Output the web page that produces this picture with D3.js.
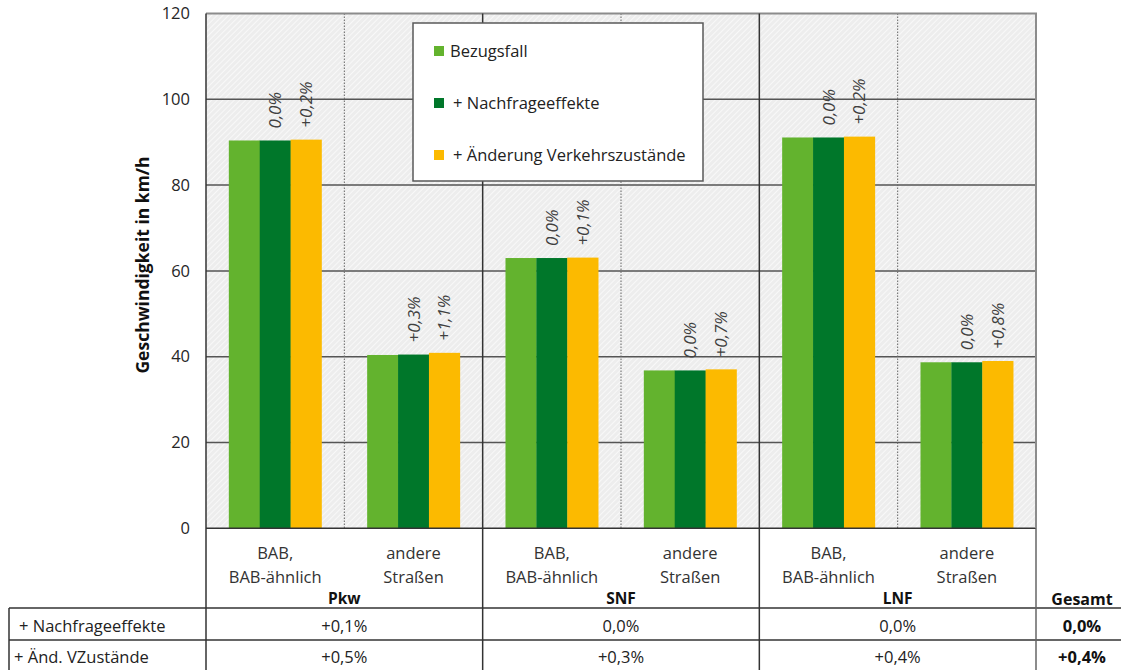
<!DOCTYPE html>
<html>
<head>
<meta charset="utf-8">
<script src="https://cdn.jsdelivr.net/npm/d3@7"></script>
<style>
  body { margin: 0; background: #fff; }
  svg text { font-family: "Open Sans", "DejaVu Sans", sans-serif; fill: #262626; }
</style>
</head>
<body>
<div id="chart"></div>
<script>
// data
var groups = ["Pkw", "SNF", "LNF"];
var roadTypes = [["BAB,", "BAB-ähnlich"], ["andere", "Straßen"]];
var seriesNames = ["Bezugsfall", "+ Nachfrageeffekte", "+ Änderung Verkehrszustände"];
var bezugsfall    = [90.4, 40.4, 63.0, 36.8, 91.1, 38.7];
var nachfrage     = [90.4, 40.5, 63.0, 36.8, 91.1, 38.7];
var aenderung     = [90.6, 40.9, 63.1, 37.05, 91.3, 39.0];
var nachfrageLbl  = ["0,0%", "+0,3%", "0,0%", "0,0%", "0,0%", "0,0%"];
var aenderungLbl  = ["+0,2%", "+1,1%", "+0,1%", "+0,7%", "+0,2%", "+0,8%"];
var yTicks = [0, 20, 40, 60, 80, 100, 120];
var rowLabels = ["+ Nachfrageeffekte", "+ Änd. VZustände"];
var rowNachfrage = ["+0,1%", "0,0%", "0,0%"];
var rowAenderung = ["+0,5%", "+0,3%", "+0,4%"];
var gesamt = ["0,0%", "+0,4%"];

var colors = ["#63b32e", "#00772a", "#fcba00"];

var width = 1121, height = 670;
var plotLeft = 206, plotRight = 1036, plotTop = 13.5, zeroY = 528.3;
var fs = 16.5;

var svg = d3.select("#chart").append("svg")
  .attr("width", width)
  .attr("height", height);

// hatch pattern for the plot background
var defs = svg.append("defs");
var pat = defs.append("pattern")
  .attr("id", "hatch")
  .attr("patternUnits", "userSpaceOnUse")
  .attr("width", 4).attr("height", 4)
  .attr("patternTransform", "rotate(45)");
pat.append("rect").attr("width", 4).attr("height", 4).attr("fill", "#ededed");
pat.append("line").attr("x1", 0).attr("y1", 0).attr("x2", 0).attr("y2", 4)
  .attr("stroke", "#fcfcfc").attr("stroke-width", 1.6);

var cats = d3.range(groups.length * roadTypes.length);

var x = d3.scaleBand().domain(cats).range([plotLeft, plotRight]);
var xs = d3.scaleBand().domain(d3.range(3))
  .range([x.bandwidth() * 0.165, x.bandwidth() * 0.835]);
var y = d3.scaleLinear().domain([0, 120]).range([zeroY, plotTop]);

svg.append("rect")
  .attr("x", plotLeft).attr("y", y(120))
  .attr("width", plotRight - plotLeft).attr("height", y(0) - y(120))
  .attr("fill", "url(#hatch)");

// horizontal gridlines
svg.selectAll(".grid")
  .data(yTicks.filter(function (d) { return d > 0 && d < 120; }))
  .enter().append("line")
  .attr("x1", plotLeft).attr("x2", plotRight)
  .attr("y1", function (d) { return y(d); })
  .attr("y2", function (d) { return y(d); })
  .attr("stroke", "#555").attr("stroke-width", 1.5);

// dotted separators between road types
svg.selectAll(".dots")
  .data(groups)
  .enter().append("line")
  .attr("x1", function (d, i) { return x(i * 2 + 1); })
  .attr("x2", function (d, i) { return x(i * 2 + 1); })
  .attr("y1", y(120)).attr("y2", y(0))
  .attr("stroke", "#666").attr("stroke-width", 1)
  .attr("stroke-dasharray", "1.5,1.5");

// bars
var series = [bezugsfall, nachfrage, aenderung];
series.forEach(function (vals, s) {
  svg.selectAll(".bar" + s)
    .data(vals)
    .enter().append("rect")
    .attr("x", function (d, i) { return x(i) + xs(s); })
    .attr("width", xs.bandwidth() + 0.3)
    .attr("y", function (d) { return y(d); })
    .attr("height", function (d) { return y(0) - y(d); })
    .attr("fill", colors[s]);
});

// rotated change labels
function barLabels(vals, lbls, s) {
  svg.selectAll(".lbl" + s)
    .data(vals)
    .enter().append("text")
    .attr("transform", function (d, i) {
      var cx = x(i) + xs(s) + xs.bandwidth() / 2 + 6;
      return "translate(" + cx + "," + (y(d) - 12) + ") rotate(-90)";
    })
    .attr("font-size", 17)
    .attr("font-style", "italic")
    .style("fill", "#404040")
    .text(function (d, i) { return lbls[i]; });
}
barLabels(nachfrage, nachfrageLbl, 1);
barLabels(aenderung, aenderungLbl, 2);

// plot frame: top & right light, others dark
svg.append("line").attr("x1", plotLeft).attr("x2", plotRight + 1)
  .attr("y1", y(120)).attr("y2", y(120))
  .attr("stroke", "#8c8c8c").attr("stroke-width", 2);
svg.append("line").attr("x1", plotLeft).attr("x2", plotRight)
  .attr("y1", y(0)).attr("y2", y(0))
  .attr("stroke", "#333").attr("stroke-width", 1.5);

// y ticks
svg.selectAll(".ytick")
  .data(yTicks)
  .enter().append("text")
  .attr("x", 190).attr("y", function (d) { return y(d); })
  .attr("dy", "0.35em")
  .attr("text-anchor", "end")
  .attr("font-size", fs)
  .text(function (d) { return d; });

svg.append("text")
  .attr("transform", "translate(149,265) rotate(-90)")
  .attr("text-anchor", "middle")
  .attr("font-size", 17.5)
  .attr("font-weight", "bold")
  .style("fill", "#111")
  .text("Geschwindigkeit in km/h");

// category labels
cats.forEach(function (c) {
  var t = roadTypes[c % 2];
  var cx = x(c) + x.bandwidth() / 2;
  t.forEach(function (line, k) {
    svg.append("text")
      .attr("x", cx).attr("y", 553 + k * 24)
      .attr("dy", "0.35em")
      .attr("text-anchor", "middle")
      .attr("font-size", fs)
      .style("fill", "#333")
      .text(line);
  });
});
groups.forEach(function (g, i) {
  svg.append("text")
    .attr("x", x(i * 2 + 1)).attr("y", 599)
    .attr("dy", "0.35em")
    .attr("text-anchor", "middle")
    .attr("font-size", 15.5)
    .attr("font-weight", "bold")
    .style("fill", "#111")
    .text(g);
});
svg.append("text")
  .attr("x", 1082).attr("y", 599).attr("dy", "0.35em")
  .attr("text-anchor", "middle")
  .attr("font-size", 16).attr("font-weight", "bold")
  .style("fill", "#111")
  .text("Gesamt");

// table lines
var lineColor = "#333";
[608, 640].forEach(function (ly) {
  svg.append("line").attr("x1", 9).attr("x2", width)
    .attr("y1", ly).attr("y2", ly)
    .attr("stroke", lineColor).attr("stroke-width", 1.5);
});
svg.append("line").attr("x1", 9).attr("x2", 9).attr("y1", 608).attr("y2", height)
  .attr("stroke", lineColor).attr("stroke-width", 1.5);
svg.append("line").attr("x1", plotLeft).attr("x2", plotLeft).attr("y1", y(120)).attr("y2", height)
  .attr("stroke", lineColor).attr("stroke-width", 1.5);
groups.forEach(function (g, i) {
  if (i === 0) return;
  svg.append("line").attr("x1", x(i * 2)).attr("x2", x(i * 2))
    .attr("y1", y(120)).attr("y2", height)
    .attr("stroke", lineColor).attr("stroke-width", 1.5);
});
svg.append("line").attr("x1", plotRight).attr("x2", plotRight).attr("y1", y(120)).attr("y2", 528)
  .attr("stroke", "#8c8c8c").attr("stroke-width", 2);
svg.append("line").attr("x1", plotRight).attr("x2", plotRight).attr("y1", 528).attr("y2", height)
  .attr("stroke", "#666").attr("stroke-width", 1.5);

// table rows
var rows = [rowNachfrage, rowAenderung];
rowLabels.forEach(function (lab, r) {
  var ry = 626 + r * 31.5;
  svg.append("text").attr("x", r === 0 ? 19 : 14).attr("y", ry).attr("dy", "0.35em")
    .attr("font-size", fs).style("fill", "#222").text(lab);
  rows[r].forEach(function (v, i) {
    svg.append("text").attr("x", x(i * 2 + 1)).attr("y", ry).attr("dy", "0.35em")
      .attr("text-anchor", "middle").attr("font-size", fs).style("fill", "#222").text(v);
  });
  svg.append("text").attr("x", 1082).attr("y", ry).attr("dy", "0.35em")
    .attr("text-anchor", "middle").attr("font-size", fs).attr("font-weight", "bold")
    .style("fill", "#111").text(gesamt[r]);
});

// legend
var lg = svg.append("g").attr("transform", "translate(413,23)");
lg.append("rect").attr("width", 290).attr("height", 158)
  .attr("fill", "#fff").attr("stroke", "#595959").attr("stroke-width", 1.5);
seriesNames.forEach(function (n, i) {
  var ly = 28 + i * 52;
  lg.append("rect").attr("x", 21).attr("y", ly - 5).attr("width", 10).attr("height", 10)
    .attr("fill", colors[i]);
  lg.append("text").attr("x", i === 0 ? 37 : 40).attr("y", ly).attr("dy", "0.35em")
    .attr("font-size", fs).style("fill", "#222").text(n);
});
</script>
</body>
</html>
